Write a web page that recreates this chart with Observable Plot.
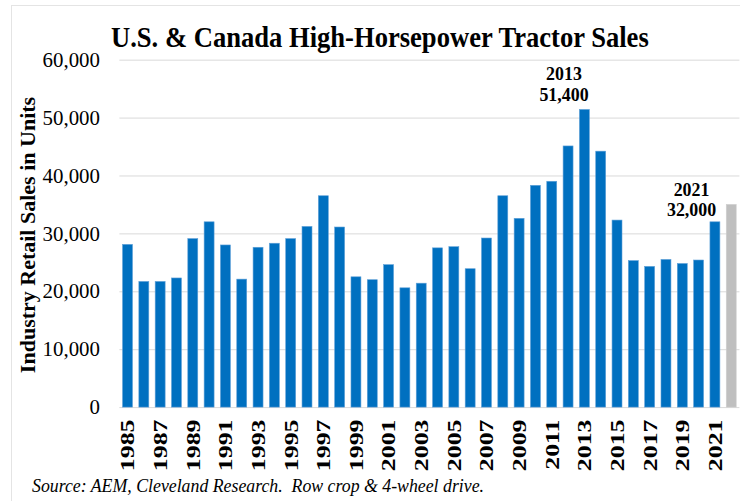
<!DOCTYPE html>
<html>
<head>
<meta charset="utf-8">
<script src="https://cdn.jsdelivr.net/npm/d3@7"></script>
<script src="https://cdn.jsdelivr.net/npm/@observablehq/plot@0.6"></script>
<style>
  html, body { margin: 0; padding: 0; background: #fff; overflow: hidden; }
  #wrap { position: relative; width: 740px; height: 501px; overflow: hidden; background: #fff;
          font-family: "Liberation Serif", "Times New Roman", serif; color: #000; }
  #frame { position: absolute; left: 11px; top: 5px; width: 800px; height: 600px;
           border-left: 1px solid #e4e4e4; border-top: 1px solid #e4e4e4; }
  #chart { position: absolute; left: 0; top: 0; }
  #title { position: absolute; left: 111px; top: 22px; font-size: 30px; font-weight: bold;
           line-height: 30px; white-space: nowrap; transform-origin: 0 0; transform: scaleX(0.886); }
  #ylabel { position: absolute; left: 28px; top: 235px; font-size: 22px; font-weight: bold;
            white-space: nowrap; transform: translate(-50%, -50%) rotate(-90deg); line-height: 22px; }
  #caption { position: absolute; left: 32px; top: 478px; font-size: 17.8px; font-style: italic;
             white-space: pre; line-height: 17px; }
</style>
</head>
<body>
<div id="wrap">
  <div id="frame"></div>
  <div id="chart"></div>
  <div id="title">U.S. &amp; Canada High-Horsepower Tractor Sales</div>
  <div id="ylabel">Industry Retail Sales in Units</div>
  <div id="caption">Source: AEM, Cleveland Research.  Row crop &amp; 4-wheel drive.</div>
</div>
<script>
// ---- data ----
const years = [1985, 1986, 1987, 1988, 1989, 1990, 1991, 1992, 1993, 1994,
               1995, 1996, 1997, 1998, 1999, 2000, 2001, 2002, 2003, 2004,
               2005, 2006, 2007, 2008, 2009, 2010, 2011, 2012, 2013, 2014,
               2015, 2016, 2017, 2018, 2019, 2020, 2021, 2022];
const sales = [28100, 21700, 21700, 22300, 29100, 32000, 28000, 22100, 27600, 28300,
               29100, 31200, 36500, 31100, 22500, 22000, 24600, 20600, 21400, 27500,
               27700, 23900, 29200, 36500, 32600, 38300, 39000, 45100, 51400, 44200,
               32300, 25300, 24300, 25500, 24800, 25400, 32000, 35000];
const seriesKind = years.map(y => y === 2022 ? "forecast" : "actual");
const xTickLabels = [1985, 1987, 1989, 1991, 1993, 1995, 1997, 1999, 2001, 2003,
                     2005, 2007, 2009, 2011, 2013, 2015, 2017, 2019, 2021];
const yTicks = [0, 10000, 20000, 30000, 40000, 50000, 60000];
const peakNote = [{year: 2013, value: 51400, label: "2013\n51,400"}];
const lastNote = [{year: 2021, value: 32000, label: "2021\n32,000"}];

const table = years.map((y, i) => ({year: y, value: sales[i], kind: seriesKind[i]}));

const chart = Plot.plot({
  width: 744,
  height: 480,
  marginLeft: 120,
  marginRight: 0.6,
  marginTop: 60,
  marginBottom: 70.7,
  style: {fontFamily: "'Liberation Serif', 'Times New Roman', serif", color: "#000", background: "transparent"},
  x: {type: "band", domain: years, paddingInner: 0.39, paddingOuter: 0.195, align: 0.5, round: false},
  y: {domain: [0, 60000]},
  color: {domain: ["actual", "forecast"], range: ["#0070C0", "#BFBFBF"]},
  marks: [
    Plot.gridY(yTicks, {stroke: "#d9d9d9", strokeOpacity: 1, strokeWidth: 1}),
    Plot.barY(table, {x: "year", y: "value", fill: "kind", stroke: d => d.kind === "actual" ? "#5fa0d8" : "#cfcfcf", strokeWidth: 0.6}),
    Plot.axisY({ticks: yTicks, tickFormat: d3.format(","), tickSize: 0, tickPadding: 20,
                fontSize: 21, label: null}),
    Plot.axisX({ticks: xTickLabels, tickFormat: d => String(d), tickSize: 0, tickPadding: 12,
                tickRotate: -90, fontSize: 20, fontWeight: "bold", label: null, ariaLabel: "x-axis"}),
    Plot.text(peakNote, {x: "year", y: "value", text: "label", lineAnchor: "bottom", dx: -21, dy: -9,
                         fontSize: 18, fontWeight: "bold", lineHeight: 1.17, fill: "#000"}),
    Plot.text(lastNote, {x: "year", y: "value", text: "label", lineAnchor: "bottom", dx: -24, dy: -6.6,
                         fontSize: 18, fontWeight: "bold", lineHeight: 1.1, fill: "#000"})
  ]
});
// stretch rotated year labels along their reading direction, like the reference's tall digits
chart.querySelectorAll('g[aria-label^="x-axis"] text').forEach(t => {
  const tr = t.getAttribute("transform");
  if (tr && tr.includes("rotate")) t.setAttribute("transform", tr + " scale(1.3,1)");
});
document.getElementById("chart").appendChild(chart);
</script>
</body>
</html>
